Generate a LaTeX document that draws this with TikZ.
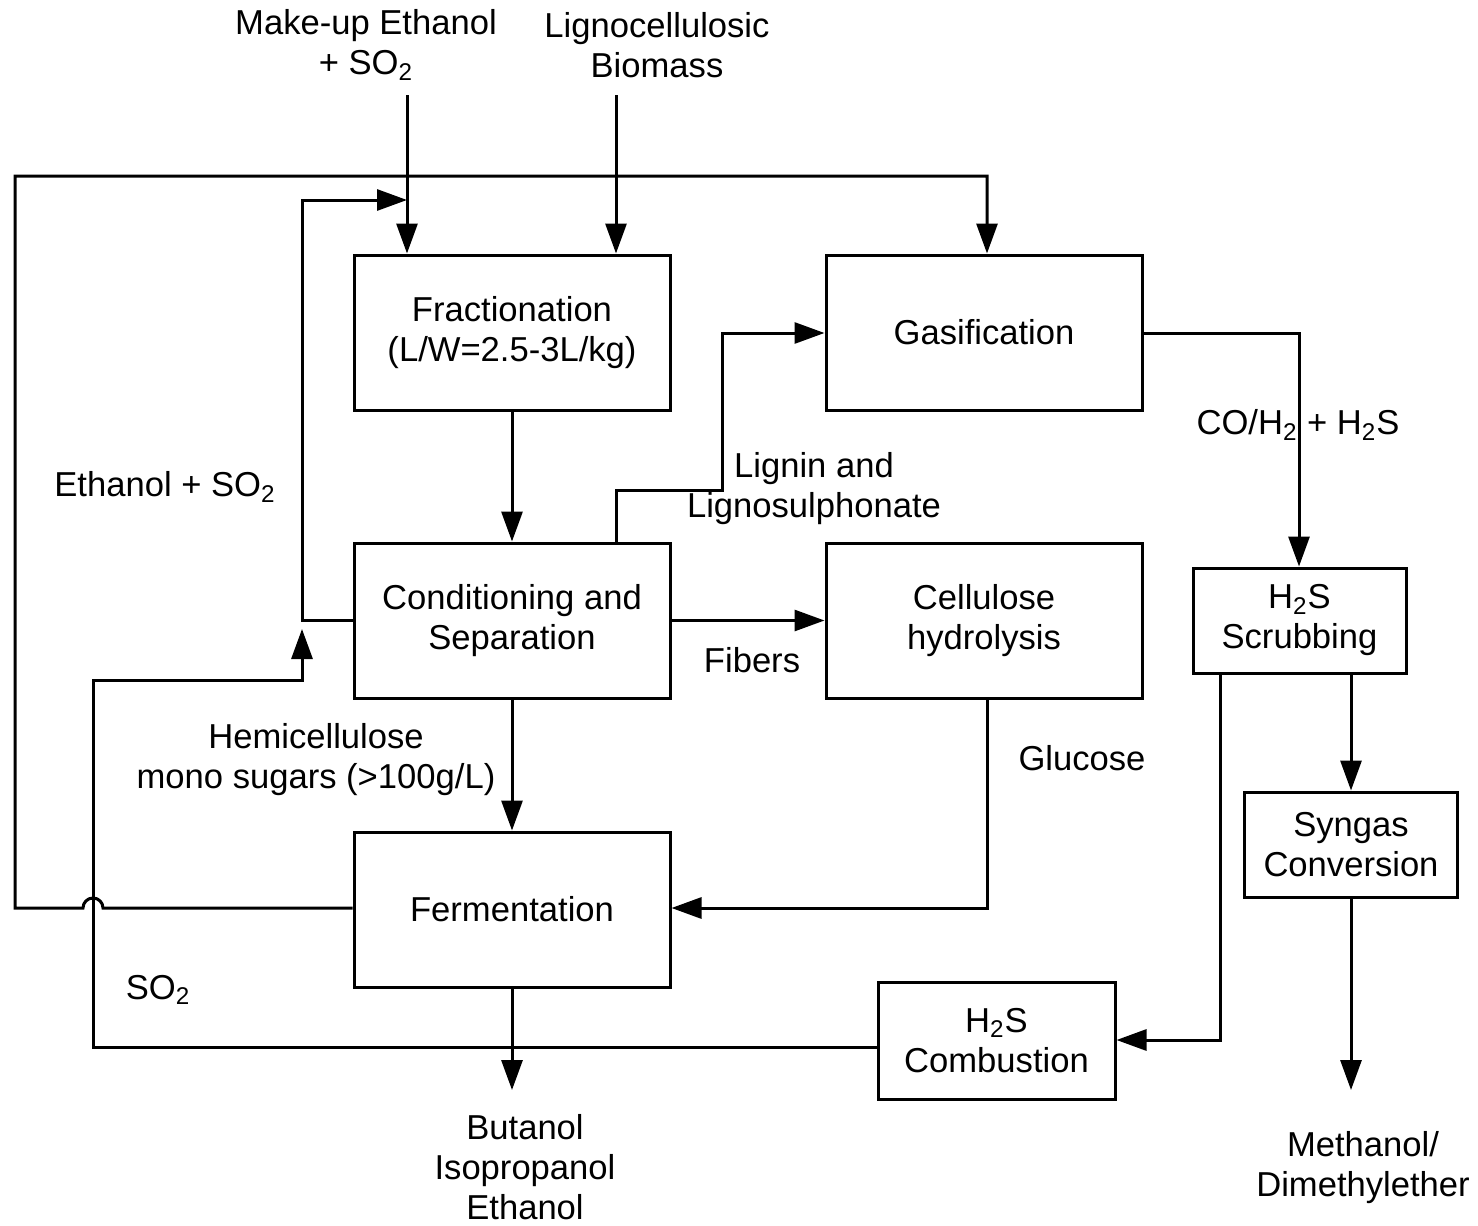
\documentclass[tikz,border=0pt]{standalone}
\usepackage{fontspec}
\setmainfont{Liberation Sans}
\usetikzlibrary{arrows.meta}
\newcommand{\two}{\textsubscript{2}}

\begin{document}
\begin{tikzpicture}[x=0.5pt, y=-0.5pt,
    every node/.style={font=\fontsize{17.3}{20}\selectfont, align=center},
    blk/.style={draw, rectangle, line width=1.5pt, inner sep=0pt, minimum width=158pt, minimum height=77.5pt},
    small/.style={draw, rectangle, line width=1.5pt, inner sep=0pt, minimum width=106.5pt, minimum height=52.5pt},
    lbl/.style={inner sep=0pt},
    line/.style={line width=1.5pt},
    arr/.style={line width=1.5pt, -{Triangle[length=15pt, width=10.5pt]}}]
    \useasboundingbox (0,0) rectangle (1478,1226);

    % Main blocks
    \node[blk] (frac) at (512,332.5) {Fractionation\\(L/W=2.5-3L/kg)};
    \node[blk] (gas)  at (984,332.5) {Gasification};
    \node[blk] (cond) at (512,620.5) {Conditioning and\\Separation};
    \node[blk] (cell) at (984,620.5) {Cellulose\\hydrolysis};
    \node[blk] (ferm) at (512,909.5) {Fermentation};

    % Right hand blocks
    \node[small] (scrub) at (1299.5,620.5) {H\two S\\Scrubbing};
    \node[small] (syn)   at (1351,844.5) {Syngas\\Conversion};
    \node[small, minimum width=118.5pt, minimum height=58.5pt] (comb) at (996.5,1040.5) {H\two S\\Combustion};

    % Labels
    \node[lbl] (makeup) at (366,45) {Make-up Ethanol\\+ SO\two};
    \node[lbl] (bio)    at (657,45) {Lignocellulosic\\Biomass};
    \node[lbl] (etso)   at (165,487) {Ethanol + SO\two};
    \node[lbl] (so)     at (158,990) {SO\two};
    \node[lbl] (hemi)   at (316,760) {Hemicellulose\\mono sugars (>100g/L)};
    \node[lbl] (fib)    at (752,660) {Fibers};
    \node[lbl] (lign)   at (814,489) {Lignin and\\Lignosulphonate};
    \node[lbl] (glu)    at (1082,758) {Glucose};
    \node[lbl] (syng)   at (1298,425) {CO/H\two{} + H\two S};
    \node[lbl] (prod)   at (525,1167) {Butanol\\Isopropanol\\Ethanol};
    \node[lbl] (meth)   at (1363,1168) {Methanol/\\Dimethylether};

    % Free ends
    \coordinate (in-1) at (407,95);
    \coordinate (in-2) at (616,95);
    \coordinate (out-1) at (512,1090);
    \coordinate (out-2) at (1351,1090);
    \coordinate (top-l) at (15,176);
    \coordinate (rec-t) at (302,200);
    \coordinate (so-b) at (93,1047);

    % Feeds
    \draw[arr] (in-1) -- (in-1 |- frac.north);
    \draw[arr] (in-2) -- (in-2 |- frac.north);

    % Main line
    \draw[arr] (frac.south) -- (cond.north);
    \draw[arr] (cond.south) -- (ferm.north);
    \draw[arr] (cond.east) -- (cell.west);
    \draw[arr] (cell.south -| 987,0) -- (987,908) -- (ferm.east |- 0,908);
    \draw[arr] (cond.north -| 616,0) -- (616,490) -- (722,490) -- (722,333) -- (gas.west |- 0,333);
    \draw[arr] (ferm.south) -- (out-1);

    % Recycles
    \draw[arr] (cond.west) -- (cond.west -| rec-t) -- (rec-t) -- (rec-t -| in-1);
    \draw[arr] (ferm.west |- 0,908) -- (103,908) arc (0:-180:10) -- (top-l |- 0,908) -- (top-l) -- (987,176) -- (gas.north -| 987,0);
    \draw[arr] (comb.west |- so-b) -- (so-b) -- (93,680) -- (302,680) -- (302,629);

    % Syngas line
    \draw[arr] (gas.east |- 0,333) -- (1299,333) -- (scrub.north -| 1299,0);
    \draw[arr] (scrub.south -| syn.north) -- (syn.north);
    \draw[arr] (scrub.south -| 1220,0) -- (1220,1040) -- (comb.east |- 0,1040);
    \draw[arr] (syn.south) -- (out-2);

\end{tikzpicture}
\end{document}
